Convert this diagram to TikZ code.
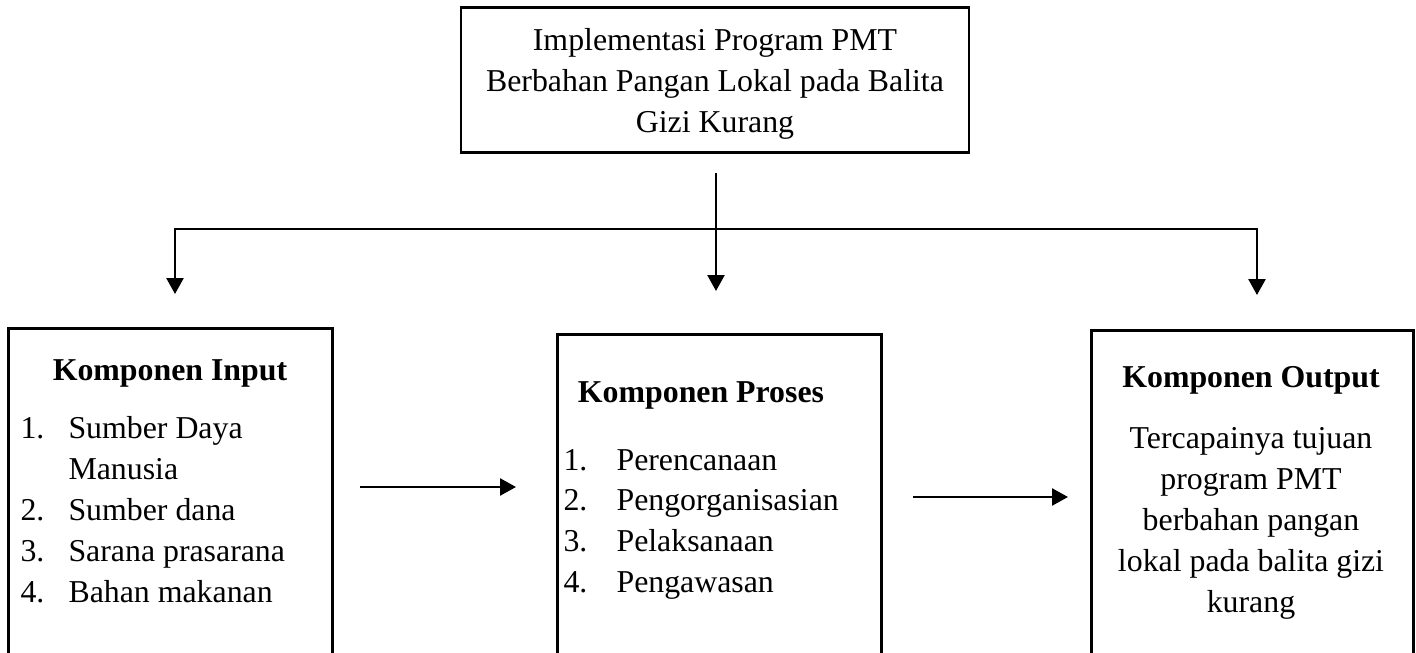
\documentclass[tikz,border=0pt]{standalone}
\usepackage{fontspec}
\setmainfont{Liberation Serif}
\usetikzlibrary{arrows.meta}

\begin{document}
\begin{tikzpicture}[x=0.377pt, y=-0.377pt,
		>={Triangle[length=6pt, width=6.4pt]},
		frame/.style={draw, line width=1.1pt, inner sep=0pt},
		link/.style={line width=0.9pt},
		title/.style={font=\fontsize{12}{15.4}\selectfont\bfseries, anchor=base, inner sep=0pt},
		body/.style={font=\fontsize{12}{15.4}\selectfont, inner sep=0pt}]
		\useasboundingbox (0,0) rectangle (1416,653);
		\clip (0,0) rectangle (1416,653);

		\node[frame, minimum width=191.5pt, minimum height=55pt] (impl) at (715,80) {};
		\node[body, align=center] (implT) at (715,84)
			{Implementasi Program PMT\\ Berbahan Pangan Lokal pada Balita\\ Gizi Kurang};

		\node[frame, anchor=north west, minimum width=122.1pt, minimum height=150pt] (input) at (7,327) {};
		\node[frame, anchor=north west, minimum width=122.1pt, minimum height=150pt] (proses) at (556,333) {};
		\node[frame, anchor=north west, minimum width=121.4pt, minimum height=150pt] (output) at (1090,329) {};

		\node[title] (inputT) at (170,381) {Komponen Input};
		\node[title] (prosesT) at (701,403) {Komponen Proses};
		\node[title] (outputT) at (1251,388) {Komponen Output};

		\node[body, anchor=base west] (inputL) at (20,439) {\begin{tabular}[t]{@{}p{18.1pt}@{}l@{}}
			1. & Sumber Daya\\ & Manusia\\ 2. & Sumber dana\\ 3. & Sarana prasarana\\ 4. & Bahan makanan
		\end{tabular}};
		\node[body, anchor=base west] (prosesL) at (563,470) {\begin{tabular}[t]{@{}p{20pt}@{}l@{}}
			1. & Perencanaan\\ 2. & Pengorganisasian\\ 3. & Pelaksanaan\\ 4. & Pengawasan
		\end{tabular}};
		\node[body, anchor=base] (outputL) at (1251,449) {\begin{tabular}[t]{@{}c@{}}
			Tercapainya tujuan\\ program PMT\\ berbahan pangan\\ lokal pada balita gizi\\ kurang
		\end{tabular}};

		\coordinate (stem) at (716,173);
		\coordinate (tipM) at (716,291);
		\coordinate (forkL) at (175,229);
		\coordinate (forkR) at (1257,229);
		\coordinate (tipL) at (175,294);
		\coordinate (tipR) at (1257,295);
		\draw[link, <->] (tipL) -- (forkL) -- (forkR) -- (tipR);
		\draw[link, ->] (stem) -- (tipM);

		\coordinate (inOut) at (360,487);
		\coordinate (prIn) at (516,487);
		\coordinate (prOut) at (913,497);
		\coordinate (ouIn) at (1068,497);
		\draw[link, ->] (inOut) -- (prIn);
		\draw[link, ->] (prOut) -- (ouIn);
	\end{tikzpicture}
\end{document}
